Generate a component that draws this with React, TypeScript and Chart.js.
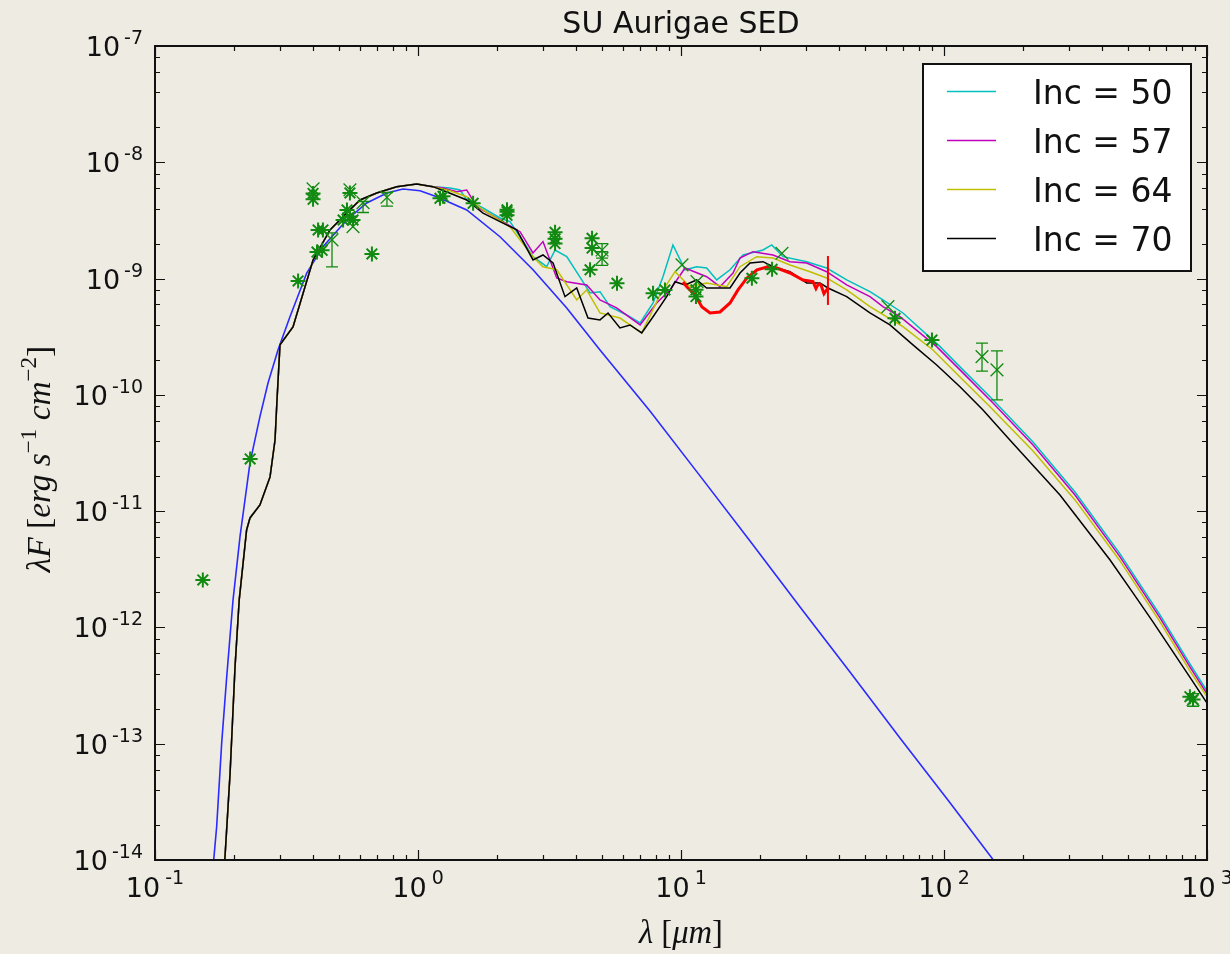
import React, { useEffect, useRef } from "react";
import { Chart, registerables } from "chart.js";

Chart.register(...registerables);

// ---------- data (wavelength in micron, lambda*F in erg s^-1 cm^-2) ----------
const titleText = "SU Aurigae SED";
const legendLabels = ["Inc = 50", "Inc = 57", "Inc = 64", "Inc = 70"];
const xTickExponents = [-1, 0, 1, 2, 3];
const yTickExponents = [-14, -13, -12, -11, -10, -9, -8, -7];

// shared short-wavelength part of all four disk models
const modelSharedWl = [0.184, 0.193, 0.2015, 0.209, 0.223, 0.2297, 0.2506, 0.2738, 0.286, 0.291, 0.2987, 0.3347, 0.399, 0.4628, 0.5357, 0.602, 0.6966, 0.83, 0.989, 1.14];
const modelSharedFlux = [9.5e-15, 5.61e-14, 4.57e-13, 1.72e-12, 6.89e-12, 8.74e-12, 1.13e-11, 1.97e-11, 4.09e-11, 9.04e-11, 2.69e-10, 3.84e-10, 1.445e-9, 2.62e-9, 3.66e-9, 4.74e-9, 5.45e-9, 6.17e-9, 6.51e-9, 6.17e-9];

const inc50Wl = [1.324, 1.445, 1.532, 1.767, 2.05, 2.238, 2.443, 2.737, 3.086, 3.32, 3.677, 4.194, 4.51, 4.92, 5.37, 6.22, 6.99, 7.83, 8.54, 9.32, 10.36, 11.47, 12.52, 13.67, 15.36, 17.21, 20.5, 22.13, 24.43, 30.06, 35.8, 42.66, 52.3, 58.6, 69.8, 96.6, 118.1, 149.6, 218, 314.8, 467, 662.6, 861, 1000];
const inc50Flux = [6.01e-9, 5.78e-9, 4.74e-9, 4.05e-9, 3.32e-9, 3.09e-9, 2.29e-9, 1.543e-9, 1.265e-9, 1.76e-9, 1.543e-9, 9.73e-10, 7.52e-10, 7.71e-10, 5.73e-10, 4.86e-10, 4.15e-10, 6.17e-10, 1.038e-9, 1.945e-9, 1.19e-9, 1.265e-9, 1.233e-9, 9.73e-10, 1.19e-9, 1.596e-9, 1.76e-9, 1.945e-9, 1.543e-9, 1.397e-9, 1.233e-9, 9.73e-10, 7.71e-10, 6.55e-10, 5.06e-10, 2.6e-10, 1.64e-10, 9.65e-11, 3.94e-11, 1.462e-11, 4.29e-12, 1.281e-12, 4.85e-13, 2.84e-13];

const inc57Wl = [1.245, 1.403, 1.532, 1.672, 2.05, 2.443, 2.737, 2.987, 3.369, 3.677, 4.379, 4.92, 5.69, 6.99, 8.08, 9.08, 10.36, 12.52, 14.07, 15.77, 16.76, 18.78, 22.38, 25.97, 30.06, 35.8, 42.66, 52.3, 58.6, 68.0, 93.8, 122, 153.6, 218, 314.8, 467, 662.6, 861, 1000];
const inc57Flux = [6.01e-9, 5.59e-9, 5.78e-9, 4.15e-9, 3.19e-9, 2.53e-9, 1.66e-9, 2.08e-9, 1.012e-9, 9.4e-10, 8.81e-10, 6.55e-10, 5.59e-10, 3.99e-10, 6.17e-10, 7.98e-10, 1.233e-9, 1.038e-9, 8.52e-10, 1.117e-9, 1.504e-9, 1.703e-9, 1.596e-9, 1.397e-9, 1.362e-9, 1.146e-9, 8.81e-10, 6.99e-10, 5.73e-10, 4.7e-10, 2.6e-10, 1.434e-10, 8.52e-11, 3.71e-11, 1.378e-11, 4.04e-12, 1.207e-12, 4.575e-13, 2.68e-13];

const inc64Wl = [1.324, 1.532, 1.767, 2.238, 2.737, 2.987, 3.369, 4.013, 4.379, 4.92, 5.86, 7.09, 8.32, 9.49, 10.82, 12.52, 14.92, 16.76, 19.4, 22.38, 25.97, 30.94, 35.8, 42.66, 52.3, 69.8, 90.8, 118.1, 149.6, 218, 314.8, 467, 662.6, 861, 1000];
const inc64Flux = [5.7e-9, 5.06e-9, 3.89e-9, 2.79e-9, 1.543e-9, 1.265e-9, 1.19e-9, 6.55e-10, 7.98e-10, 5.06e-10, 4.58e-10, 3.41e-10, 7.23e-10, 1.146e-9, 8.52e-10, 9.17e-10, 8.52e-10, 1.265e-9, 1.543e-9, 1.504e-9, 1.31e-9, 1.146e-9, 1.012e-9, 7.98e-10, 5.73e-10, 3.86e-10, 2.43e-10, 1.343e-10, 7.91e-11, 3.29e-11, 1.249e-11, 3.73e-12, 1.115e-12, 4.23e-13, 2.53e-13];

const inc70Wl = [1.324, 1.532, 1.767, 2.05, 2.373, 2.737, 2.987, 3.262, 3.622, 4.013, 4.43, 4.92, 5.28, 5.86, 6.4, 7.09, 7.83, 8.82, 9.49, 10.36, 11.47, 12.52, 15.36, 16.76, 18.3, 20.5, 22.38, 25.97, 30.06, 33.77, 36.2, 42.66, 52.3, 62.3, 76.2, 93.8, 115, 140.7, 178, 276, 428, 523, 623, 742.6, 884.7, 1000];
const inc70Flux = [5.41e-9, 4.74e-9, 3.66e-9, 3.09e-9, 2.62e-9, 1.445e-9, 1.596e-9, 1.362e-9, 6.99e-10, 8.3e-10, 4.58e-10, 4.41e-10, 5.06e-10, 3.76e-10, 3.99e-10, 3.41e-10, 4.7e-10, 6.99e-10, 9.4e-10, 8.81e-10, 9.73e-10, 8.3e-10, 8.3e-10, 1.117e-9, 1.362e-9, 1.397e-9, 1.265e-9, 1.146e-9, 9.17e-10, 9.17e-10, 8.3e-10, 6.99e-10, 5.06e-10, 3.99e-10, 2.69e-10, 1.807e-10, 1.176e-10, 7.42e-11, 4.09e-11, 1.378e-11, 3.8e-12, 1.98e-12, 1.115e-12, 6.16e-13, 3.4e-13, 2.24e-13];

// stellar photosphere
const starModelWl = [0.1669, 0.1716, 0.1793, 0.1874, 0.198, 0.2105, 0.2297, 0.2506, 0.269, 0.2935, 0.326, 0.3775, 0.4352, 0.5357, 0.6383, 0.762, 0.877, 1.018, 1.178, 1.532, 2.05, 2.737, 3.677, 4.92, 7.62, 11.81, 18.3, 28.35, 43.9, 68.0, 105.4, 156.2];
const starModelFlux = [9.6e-15, 1.94e-14, 1.016e-13, 3.78e-13, 1.72e-12, 6.04e-12, 2.6e-11, 6.5e-11, 1.265e-10, 2.43e-10, 4.7e-10, 1.117e-9, 1.88e-9, 3.19e-9, 4.47e-9, 5.45e-9, 5.89e-9, 5.7e-9, 5.06e-9, 3.89e-9, 2.29e-9, 1.19e-9, 5.59e-10, 2.43e-10, 7.27e-11, 2.01e-11, 5.54e-12, 1.5e-12, 4.14e-13, 1.12e-13, 3.1e-14, 9.6e-15];

// Spitzer IRS spectrum
const irsWl = [10.18, 10.54, 11.3, 12.02, 12.89, 14.07, 15.36, 16.47, 17.82, 19.45, 21.23, 23.17, 25.97, 29.1, 31.76, 32.6, 33.3, 34.06, 34.97, 36.2];
const irsFlux = [9.35e-10, 8.47e-10, 7.23e-10, 5.7e-10, 5.06e-10, 5.16e-10, 6.17e-10, 7.98e-10, 1.012e-9, 1.19e-9, 1.258e-9, 1.233e-9, 1.117e-9, 9.73e-10, 9.4e-10, 8.2e-10, 9.0e-10, 8.81e-10, 7.4e-10, 8.3e-10];
const irsLastLow = 5.93e-10;
const irsLastHigh = 1.564e-9;

// photometry (asterisks)
const photWl = [0.152, 0.23, 0.35, 0.399, 0.399, 0.417, 0.435, 0.413, 0.432, 0.519, 0.537, 0.551, 0.566, 0.551, 0.668, 1.212, 1.245, 1.62, 2.18, 2.18, 2.18, 3.32, 3.32, 3.32, 4.59, 4.59, 4.51, 5.71, 7.83, 8.69, 11.4, 11.4, 18.6, 22.2, 65.1, 90, 861, 885];
const photFlux = [2.56e-12, 2.81e-11, 9.54e-10, 4.8e-9, 5.4e-9, 2.62e-9, 2.62e-9, 1.69e-9, 1.75e-9, 3.19e-9, 3.89e-9, 3.41e-9, 3.19e-9, 5.45e-9, 1.63e-9, 4.9e-9, 5.1e-9, 4.44e-9, 3.76e-9, 3.5e-9, 3.9e-9, 2.5e-9, 2.2e-9, 2.0e-9, 2.22e-9, 1.83e-9, 1.19e-9, 9.11e-10, 7.47e-10, 7.98e-10, 7.0e-10, 8.0e-10, 1.006e-9, 1.2e-9, 4.56e-10, 2.96e-10, 2.54e-13, 2.4e-13];

// photometry with error bars (x markers); 0 = no bar
const errWl = [0.399, 0.551, 0.566, 0.471, 0.618, 0.762, 5.01, 5.01, 10.09, 11.5, 24.2, 61.2, 139.5, 159, 885];
const errFlux = [5.9e-9, 5.8e-9, 2.8e-9, 2.15e-9, 4.5e-9, 5.0e-9, 1.76e-9, 1.49e-9, 1.31e-9, 9.4e-10, 1.65e-9, 5.73e-10, 2.13e-10, 1.64e-10, 2.4e-13];
const errLow = [0, 0, 0, 1.26e-9, 3.7e-9, 4.2e-9, 1.5e-9, 1.3e-9, 0, 0, 0, 0, 1.6e-10, 9.04e-11, 2.1e-13];
const errHigh = [0, 0, 0, 2.47e-9, 4.6e-9, 5.5e-9, 2.0e-9, 1.7e-9, 0, 0, 0, 0, 2.79e-10, 2.385e-10, 2.7e-13];

// ---------- styling ----------
const BG = "#EEEBE3";
const modelColors = ["#00BFBF", "#BF00BF", "#BFBF00", "#000000"];
const GREEN = "#108A10";

const pts = (xs: number[], ys: number[]) => xs.map((x, i) => ({ x, y: ys[i] }));

function drawMath(ctx: CanvasRenderingContext2D, parts: { t: string; it?: boolean; sup?: boolean }[], cx: number, baseY: number, size: number, targetW: number | null) {
  const family = "'Liberation Serif', serif";
  const font = (p: any, s: number) => `${p.it ? "italic " : ""}${p.sup ? Math.round(s * 0.7) : s}px ${family}`;
  const measure = (s: number) => {
    let w = 0;
    for (const p of parts) {
      ctx.font = font(p, s);
      w += ctx.measureText(p.t).width;
    }
    return w;
  };
  let s = size;
  if (targetW) {
    const w0 = measure(size);
    s = size * (targetW / w0);
  }
  const total = measure(s);
  let x = cx - total / 2;
  ctx.textAlign = "left";
  ctx.textBaseline = "alphabetic";
  for (const p of parts) {
    ctx.font = font(p, s);
    ctx.fillText(p.t, x, p.sup ? baseY - s * 0.42 : baseY);
    x += ctx.measureText(p.t).width;
  }
}

const decorPlugin = {
  id: "sedDecor",
  beforeDraw(chart: any) {
    const ctx = chart.ctx;
    ctx.save();
    ctx.fillStyle = BG;
    ctx.fillRect(0, 0, chart.width, chart.height);
    ctx.restore();
  },
  afterDatasetsDraw(chart: any) {
    const ctx = chart.ctx;
    const xs = chart.scales.x;
    const ys = chart.scales.y;
    ctx.save();
    ctx.strokeStyle = GREEN;
    ctx.lineWidth = 1.3;
    errWl.forEach((wl, i) => {
      if (!errLow[i]) return;
      const px = xs.getPixelForValue(wl);
      const p1 = ys.getPixelForValue(errLow[i]);
      const p2 = ys.getPixelForValue(errHigh[i]);
      ctx.beginPath();
      ctx.moveTo(px, p1);
      ctx.lineTo(px, p2);
      ctx.moveTo(px - 6, p1);
      ctx.lineTo(px + 6, p1);
      ctx.moveTo(px - 6, p2);
      ctx.lineTo(px + 6, p2);
      ctx.stroke();
    });
    ctx.strokeStyle = "#FF0000";
    ctx.lineWidth = 2;
    const rx = xs.getPixelForValue(irsWl[irsWl.length - 1]);
    ctx.beginPath();
    ctx.moveTo(rx, ys.getPixelForValue(irsLastLow));
    ctx.lineTo(rx, ys.getPixelForValue(irsLastHigh));
    ctx.stroke();
    ctx.restore();
  },
  afterDraw(chart: any) {
    const ctx = chart.ctx as CanvasRenderingContext2D;
    const a = chart.chartArea;
    const xs = chart.scales.x;
    const ys = chart.scales.y;
    ctx.save();
    ctx.strokeStyle = "#111";
    ctx.lineWidth = 2;
    ctx.strokeRect(a.left, a.top, a.right - a.left, a.bottom - a.top);

    ctx.lineWidth = 1.2;
    ctx.beginPath();
    for (let e = -1; e <= 3; e++) {
      for (let k = 1; k <= 9; k++) {
        const v = k * Math.pow(10, e);
        if (v > 1000.0001) continue;
        const px = Math.round(xs.getPixelForValue(v)) + 0.5;
        const len = k === 1 ? 10 : 5;
        ctx.moveTo(px, a.bottom);
        ctx.lineTo(px, a.bottom - len);
        ctx.moveTo(px, a.top);
        ctx.lineTo(px, a.top + len);
      }
    }
    for (let e = -14; e <= -7; e++) {
      for (const k of [1, 2, 4, 6, 8]) {
        const v = k * Math.pow(10, e);
        if (v > 1.0001e-7) continue;
        const py = Math.round(ys.getPixelForValue(v)) + 0.5;
        const len = k === 1 ? 10 : 5;
        ctx.moveTo(a.left, py);
        ctx.lineTo(a.left + len, py);
        ctx.moveTo(a.right, py);
        ctx.lineTo(a.right - len, py);
      }
    }
    ctx.stroke();

    ctx.fillStyle = "#111";
    const baseFont = "27px 'DejaVu Sans'";
    const supFont = "19px 'DejaVu Sans'";
    ctx.textBaseline = "alphabetic";
    yTickExponents.forEach((e) => {
      const py = ys.getPixelForValue(Math.pow(10, e));
      const sup = "-" + String(-e);
      ctx.font = supFont;
      const ws = ctx.measureText(sup).width;
      ctx.textAlign = "right";
      ctx.fillText(sup, 143, py - 2);
      ctx.font = baseFont;
      ctx.fillText("10", 143 - ws - 4, py + 10);
    });
    xTickExponents.forEach((e) => {
      const px = xs.getPixelForValue(Math.pow(10, e));
      const sup = e < 0 ? "-" + String(-e) : String(e);
      ctx.font = baseFont;
      const wb = ctx.measureText("10").width;
      ctx.font = supFont;
      const ws = ctx.measureText(sup).width;
      const start = px - (wb + 5 + ws) / 2;
      ctx.textAlign = "left";
      ctx.font = baseFont;
      ctx.fillText("10", start, 897);
      ctx.font = supFont;
      ctx.fillText(sup, start + wb + 5, 884);
    });

    ctx.font = "30px 'DejaVu Sans'";
    ctx.textAlign = "center";
    ctx.fillText(titleText, (a.left + a.right) / 2, 33);

    drawMath(ctx, [
      { t: "\u03BB", it: true },
      { t: " [" },
      { t: "\u03BCm", it: true },
      { t: "]" },
    ], (a.left + a.right) / 2, 943, 24, 84);

    ctx.save();
    ctx.translate(50, 459);
    ctx.rotate(-Math.PI / 2);
    drawMath(ctx, [
      { t: "\u03BBF", it: true },
      { t: " [" },
      { t: "erg s", it: true },
      { t: "\u22121", sup: true },
      { t: " cm", it: true },
      { t: "\u22122", sup: true },
      { t: "]" },
    ], 0, 0, 24, 228);
    ctx.restore();

    const lx = 923, ly = 64, lw = 268, lh = 207;
    ctx.fillStyle = "#FFFFFF";
    ctx.fillRect(lx, ly, lw, lh);
    ctx.strokeStyle = "#111";
    ctx.lineWidth = 2;
    ctx.strokeRect(lx, ly, lw, lh);
    const rowY = [91.5, 140.5, 189.5, 238.5];
    legendLabels.forEach((lab, i) => {
      ctx.strokeStyle = modelColors[i];
      ctx.lineWidth = 1.6;
      ctx.beginPath();
      ctx.moveTo(947, rowY[i]);
      ctx.lineTo(996, rowY[i]);
      ctx.stroke();
      ctx.fillStyle = "#111";
      ctx.font = "33px 'DejaVu Sans'";
      ctx.textAlign = "left";
      ctx.textBaseline = "alphabetic";
      ctx.fillText(lab, 1033, rowY[i] + 12);
    });
    ctx.restore();
  },
};

export default function App() {
  const ref = useRef<HTMLCanvasElement | null>(null);
  useEffect(() => {
    if (!ref.current) return;
    const lineDs = (label: string, wl: number[], fl: number[], color: string, width: number, order: number) => ({
      label,
      data: pts(wl, fl),
      showLine: true,
      borderColor: color,
      backgroundColor: color,
      borderWidth: width,
      pointRadius: 0,
      tension: 0,
      order,
    });
    const chart = new Chart(ref.current, {
      type: "scatter",
      data: {
        datasets: [
          {
            label: "photometry",
            data: pts(photWl, photFlux),
            pointStyle: "star",
            pointRadius: 7.5,
            borderColor: GREEN,
            backgroundColor: GREEN,
            pointBorderWidth: 2,
            borderWidth: 2,
            showLine: false,
            order: 0,
          } as any,
          {
            label: "photometry err",
            data: pts(errWl, errFlux),
            pointStyle: "crossRot",
            pointRadius: 9,
            borderColor: GREEN,
            backgroundColor: GREEN,
            pointBorderWidth: 1.3,
            borderWidth: 1.3,
            showLine: false,
            order: 0,
          } as any,
          lineDs("IRS", irsWl, irsFlux, "#FF0000", 3, 1),
          lineDs(legendLabels[3], [...modelSharedWl, ...inc70Wl], [...modelSharedFlux, ...inc70Flux], modelColors[3], 1.5, 2),
          lineDs(legendLabels[2], [...modelSharedWl, ...inc64Wl], [...modelSharedFlux, ...inc64Flux], modelColors[2], 1.5, 3),
          lineDs(legendLabels[1], [...modelSharedWl, ...inc57Wl], [...modelSharedFlux, ...inc57Flux], modelColors[1], 1.5, 4),
          lineDs(legendLabels[0], [...modelSharedWl, ...inc50Wl], [...modelSharedFlux, ...inc50Flux], modelColors[0], 1.5, 5),
          lineDs("photosphere", starModelWl, starModelFlux, "#2B2BFF", 1.6, 6),
        ],
      },
      options: {
        responsive: false,
        animation: false,
        devicePixelRatio: 1,
        events: [],
        layout: { padding: { left: 155, right: 23, top: 46, bottom: 94 } },
        plugins: {
          legend: { display: false },
          title: { display: false },
          tooltip: { enabled: false },
        },
        scales: {
          x: { type: "logarithmic", min: 0.1, max: 1000, display: false },
          y: { type: "logarithmic", min: 1e-14, max: 1e-7, display: false },
        },
      } as any,
      plugins: [decorPlugin],
    });
    return () => chart.destroy();
  }, []);
  return (
    <div style={{ position: "absolute", left: 0, top: 0, width: 1230, height: 954, background: BG }}>
      <canvas ref={ref} width={1230} height={954} style={{ display: "block", width: 1230, height: 954 }} />
    </div>
  );
}
